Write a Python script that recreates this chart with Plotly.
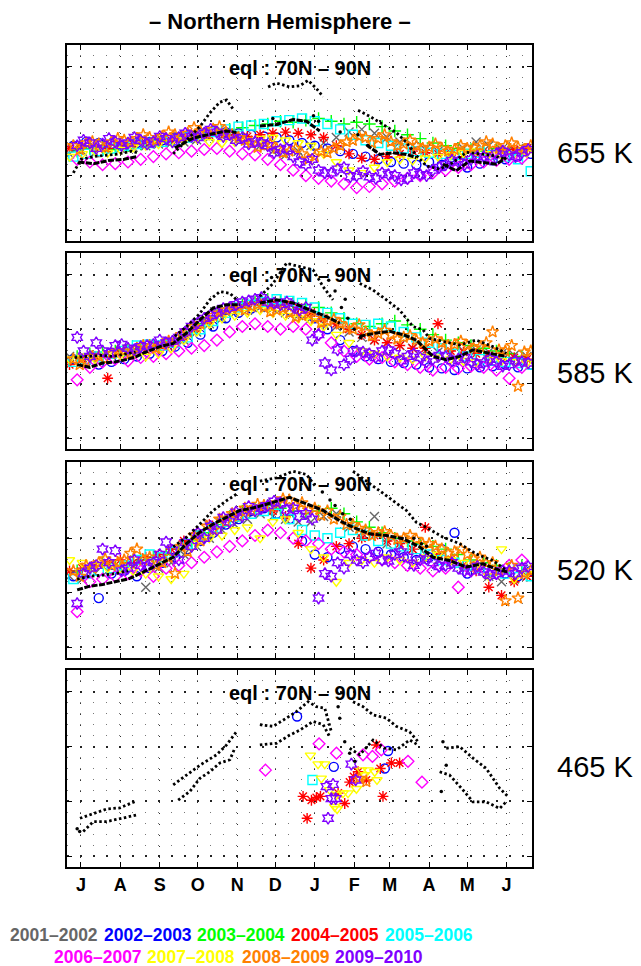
import plotly.graph_objects as go

# ---------------- data ----------------
MONTH_DAYS = [0, 31, 62, 92, 123, 153, 184, 215, 243, 274, 304, 335]
MONTH_LABELS = ["J", "A", "S", "O", "N", "D", "J", "F", "M", "A", "M", "J"]
YEARS = ["2001–2002", "2002–2003", "2003–2004", "2004–2005", "2005–2006",
         "2006–2007", "2007–2008", "2008–2009", "2009–2010"]
COLORS = ["#666666", "#0000ff", "#00ff00", "#ff0000", "#00ffff",
          "#ff00ff", "#ffff00", "#ff8000", "#8000ff"]
SYMBOLS = ["x-thin-open", "circle-open", "cross-thin-open", "asterisk-open", "square-open",
           "diamond-open", "triangle-down-open", "star-open", "hexagram-open"]
LEVELS = ["655 K", "585 K", "520 K", "465 K"]

# days since 1 July
DAYS_A = [-9, 1, 11, 21, 31, 41, 51, 61, 71, 81, 91, 101, 111, 121, 131, 141, 151, 161, 171, 181,
          191, 201, 211, 221, 231, 241, 251, 261, 271, 281, 291, 301, 311, 321, 331, 341, 351]
DAYS_B = [-6, 4, 14, 24, 34, 44, 54, 64, 74, 84, 94, 104, 114, 124, 134, 144, 154, 164, 174, 184,
          194, 204, 214, 224, 234, 244, 254, 264, 274, 284, 294, 304, 314, 324, 334, 344, 354]
DAYS_C = [-3, 7, 17, 27, 37, 47, 57, 67, 77, 87, 97, 107, 117, 127, 137, 147, 157, 167, 177, 187,
          197, 207, 217, 227, 237, 247, 257, 267, 277, 287, 297, 307, 317, 327, 337, 347]
DAYS_D = [2, 12, 22, 32, 42, 52, 62, 72, 82, 92, 102, 112, 122, 132, 142, 152, 162, 172, 182, 192,
          202, 212, 222, 232, 242, 252, 262, 272, 282, 292, 302, 312, 322, 332, 342, 352]
DAYS_E = [-1, 9, 19, 29, 39, 49, 59, 69, 79, 89, 99, 109, 119, 129, 139, 149, 159, 169, 179, 189,
          199, 209, 219, 229, 239, 249, 259, 269, 279, 289, 299, 309, 319, 329, 339, 349]

# ---- 655 K ----
K655_GREY = [2.40, 2.45, 2.42, 2.48, 2.50, 2.52, 2.55, 2.58, 2.60, 2.62, 2.66, 2.70, 2.72, 2.68, 2.65, 2.55, 2.45, 2.38, 2.45, 2.55,
             2.60, 2.70, 2.80, 2.85, 2.78, 2.70, 2.62, 2.55, 2.48, 2.45, 2.42, 2.50, 2.62, 2.55, 2.48, 2.45, 2.50]
K655_BLUE = [2.55, 2.62, 2.60, 2.58, 2.55, 2.60, 2.62, 2.65, 2.70, 2.72, 2.78, 2.82, 2.80, 2.78, 2.75, 2.72, 2.70, 2.65, 2.60, 2.55,
             2.50, 2.45, 2.40, 2.35, 2.30, 2.25, 2.22, 2.20, 2.25, 2.20, 2.18, 2.15, 2.22, 2.28, 2.30, 2.35, 2.40]
K655_GREEN = [2.45, 2.50, 2.52, 2.48, 2.55, 2.58, 2.62, 2.65, 2.68, 2.72, 2.75, 2.80, 2.85, 2.88, 2.92, 2.95, 3.00, 2.98, 3.02, 3.05,
              3.00, 2.95, 2.98, 2.95, 2.90, 2.82, 2.75, 2.68, 2.60, 2.55, 2.50, 2.48, 2.45, 2.50, 2.48, 2.45]
K655_RED = [2.50, 2.55, 2.52, 2.50, 2.55, 2.58, 2.60, 2.62, 2.65, 2.68, 2.72, 2.75, 2.78, 2.75, 2.72, 2.75, 2.78, 2.80, 2.78, 2.75,
            2.70, 2.55, 2.40, 2.32, 2.30, 2.35, 2.40, 2.45, 2.42, 2.40, 2.38, 2.35, 2.40, 2.42, 2.45, 2.48, 2.50]
K655_CYAN = [2.35, 2.40, 2.45, 2.50, 2.55, 2.58, 2.60, 2.62, 2.65, 2.70, 2.75, 2.80, 2.85, 2.90, 2.92, 2.95, 3.00, 3.02, 3.05, 3.00,
             2.95, 2.85, 2.75, 2.65, 2.60, 2.55, 2.50, 2.45, 2.42, 2.40, 2.38, 2.40, 2.42, 2.38, 2.35, 2.30, 2.08]
K655_MAGENTA = [2.30, 2.25, 2.20, 2.22, 2.25, 2.30, 2.35, 2.40, 2.42, 2.45, 2.48, 2.50, 2.45, 2.40, 2.38, 2.30, 2.20, 2.10, 2.00, 1.95,
                1.90, 1.85, 1.78, 1.80, 1.85, 1.90, 1.95, 2.00, 2.05, 2.10, 2.15, 2.20, 2.25, 2.28, 2.30, 2.32]
K655_YELLOW = [2.35, 2.40, 2.45, 2.42, 2.48, 2.52, 2.55, 2.58, 2.62, 2.65, 2.68, 2.62, 2.60, 2.62, 2.65, 2.68, 2.70, 2.65, 2.60, 2.55,
               2.40, 2.25, 2.10, 2.05, 2.15, 2.25, 2.30, 2.28, 2.32, 2.35, 2.38, 2.42, 2.45, 2.40, 2.38, 2.40, 2.42]
K655_ORANGE = [2.55, 2.60, 2.58, 2.62, 2.65, 2.68, 2.70, 2.72, 2.75, 2.78, 2.82, 2.85, 2.80, 2.70, 2.60, 2.55, 2.50, 2.45, 2.40, 2.35,
               2.42, 2.55, 2.65, 2.70, 2.68, 2.62, 2.58, 2.55, 2.52, 2.50, 2.48, 2.50, 2.55, 2.58, 2.55, 2.52, 2.55]
K655_ORANGE_2 = [2.48, 2.62, 2.52, 2.68, 2.60, 2.75, 2.65, 2.80, 2.70, 2.88, 2.78, 2.90, 2.75, 2.65, 2.52, 2.58, 2.42, 2.50, 2.30, 2.45,
                 2.50, 2.62, 2.72, 2.60, 2.75, 2.55, 2.65, 2.50, 2.58, 2.45, 2.55, 2.52, 2.62, 2.50, 2.60, 2.48]
K655_PURPLE = [2.55, 2.60, 2.58, 2.62, 2.60, 2.65, 2.62, 2.68, 2.70, 2.72, 2.78, 2.80, 2.75, 2.70, 2.62, 2.55, 2.48, 2.35, 2.20, 2.10,
               2.05, 2.15, 2.00, 1.98, 2.05, 2.00, 1.95, 2.02, 2.10, 2.20, 2.25, 2.30, 2.35, 2.40, 2.38, 2.42]
K655_PURPLE_2 = [2.65, 2.50, 2.68, 2.55, 2.70, 2.58, 2.72, 2.62, 2.78, 2.70, 2.85, 2.72, 2.65, 2.58, 2.60, 2.42, 2.50, 2.25, 2.30, 2.05,
                 2.12, 1.98, 2.08, 1.95, 2.02, 1.92, 2.05, 2.00, 2.15, 2.28, 2.20, 2.35, 2.30, 2.45, 2.35, 2.48]
K655_BLACK_A_X = [-6, 0, 10, 20, 30, 40, 44, None, 72.6, 83, 93.6, 101.4, 109.3, 114.6, 119.8, None,
                  147.3, 153.9, 164.3, 172.2, 178.8, 185.3, 190.6, None,
                  218.1, 227.3, 237.7, 248.2, 256.1, 264.0, 271.8, 282.3, 292.8, 303.3, 313.7, 324.2, 334.7]
K655_BLACK_A_Y = [2.05, 2.30, 2.35, 2.38, 2.40, 2.45, 2.42, None, 2.40, 2.65, 2.90, 3.15, 3.35, 3.39, 3.22, None,
                  3.63, 3.70, 3.63, 3.65, 3.75, 3.60, 3.45, None,
                  3.20, 3.09, 2.94, 2.79, 2.61, 2.37, 2.18, 2.12, 2.24, 2.43, 2.40, 2.37, 2.30]
K655_BLACK_B_X = [-2, 10, 22, 34, 44, None, 74, 88.3, 101.4, 114.6, 122.4, None, 140.8, 153.9, 167, 177.5, 187.9, None,
                  224.6, 235.1, 245.6, 256.1, 264, None, 284.9, 295.4, 305.9, 316.4, 326.9, 334.7]
K655_BLACK_B_Y = [2.25, 2.22, 2.28, 2.30, 2.35, None, 2.51, 2.69, 2.76, 2.82, 2.79, None, 2.91, 2.94, 3.03, 3.00, 2.82, None,
                  2.57, 2.39, 2.42, 2.39, 2.33, None, 2.21, 2.09, 2.27, 2.24, 2.21, 2.33]
K655_BLACK_DOT_X = [151, 155, 183, 187, 204, 218, 226, 232]
K655_BLACK_DOT_Y = [3.05, 2.95, 3.10, 3.00, 2.80, 2.75, 2.55, 2.45]

# ---- 585 K ----
K585_GREY = [2.50, 2.48, 2.52, 2.55, 2.58, 2.60, 2.62, 2.65, 2.70, 2.80, 2.95, 3.10, 3.20, 3.30, 3.35, 3.40, 3.38, 3.30, 3.25, 3.20,
             3.10, 3.05, 2.95, 2.85, 2.80, 2.75, 2.70, 2.65, 2.60, 2.58, 2.55, 2.60, 2.62, 2.58, 2.55, 2.52, 2.50]
K585_BLUE = [2.45, 2.40, 2.35, 2.40, 2.45, 2.50, 2.55, 2.60, 2.68, 2.75, 2.90, 3.05, 3.20, 3.30, 3.38, 3.42, 3.40, 3.35, 3.30, 3.20,
             3.00, 2.80, 2.60, 2.50, 2.45, 2.40, 2.38, 2.35, 2.30, 2.28, 2.25, 2.28, 2.30, 2.32, 2.35, 2.30, 2.35]
K585_GREEN = [2.50, 2.55, 2.58, 2.60, 2.62, 2.65, 2.68, 2.72, 2.80, 2.95, 3.10, 3.25, 3.35, 3.45, 3.50, 3.55, 3.52, 3.48, 3.45, 3.40,
              3.30, 3.20, 3.10, 3.05, 3.10, 3.15, 3.08, 3.00, 2.90, 2.80, 2.75, 2.70, 2.65, 2.60, 2.55, 2.50]
K585_RED = [2.35, 2.45, 2.50, 2.10, 2.55, 2.60, 2.62, 2.65, 2.72, 2.85, 3.00, 3.15, 3.30, 3.40, 3.45, 3.50, 3.48, 3.45, 3.40, 3.30,
            3.20, 3.10, 3.00, 2.90, 2.80, 2.75, 2.70, 2.65, 2.65, 3.10, 2.60, 2.58, 2.55, 2.52, 2.50, 2.48, 2.45]
K585_CYAN = [2.40, 2.45, 2.50, 2.55, 2.60, 2.70, 2.72, 2.70, 2.75, 2.85, 3.00, 3.15, 3.30, 3.40, 3.45, 3.50, 3.55, 3.52, 3.48, 3.40,
             3.30, 3.20, 3.10, 3.08, 3.10, 3.05, 2.95, 2.85, 2.75, 2.65, 2.55, 2.50, 2.45, 2.42, 2.40, 2.38, 2.35]
K585_MAGENTA = [2.07, 2.30, 2.40, 2.45, 2.42, 2.48, 2.50, 2.55, 2.60, 2.65, 2.70, 2.80, 2.95, 3.05, 3.10, 3.05, 3.00, 3.05, 3.00, 2.90,
                2.75, 2.60, 2.50, 2.45, 2.48, 2.40, 2.35, 2.30, 2.25, 2.30, 2.28, 2.32, 2.30, 2.25, 2.10, 2.30]
K585_YELLOW = [2.45, 2.50, 2.45, 2.55, 2.52, 2.55, 2.50, 2.55, 2.65, 2.80, 2.95, 3.10, 3.20, 3.25, 3.30, 3.35, 3.30, 3.25, 3.20, 3.15,
               3.05, 2.90, 2.75, 2.60, 2.55, 2.50, 2.48, 2.45, 2.50, 2.48, 2.45, 2.42, 2.40, 2.45, 2.42, 2.40, 2.38]
K585_ORANGE = [2.45, 2.40, 2.50, 2.55, 2.60, 2.65, 2.70, 2.72, 2.80, 2.95, 3.10, 3.25, 3.35, 3.40, 3.42, 3.40, 3.35, 3.30, 3.25, 3.20,
               3.15, 3.10, 3.00, 2.95, 2.92, 2.90, 2.85, 2.80, 2.78, 2.75, 2.72, 2.70, 2.68, 2.95, 2.60, 1.95, 2.60]
K585_ORANGE_2 = [2.35, 2.50, 2.45, 2.60, 2.55, 2.70, 2.65, 2.78, 2.90, 3.05, 3.18, 3.30, 3.38, 3.35, 3.45, 3.32, 3.38, 3.22, 3.28, 3.12,
                 3.18, 3.02, 3.08, 2.88, 2.98, 2.82, 2.88, 2.75, 2.82, 2.70, 2.78, 2.65, 2.75, 2.62, 2.70, 2.58]
K585_PURPLE = [2.85, 2.50, 2.60, 2.70, 2.65, 2.68, 2.72, 2.75, 2.85, 3.05, 3.20, 3.30, 3.40, 3.50, 3.55, 3.50, 3.45, 3.42, 3.40, 2.90,
               2.25, 2.35, 2.60, 2.55, 2.60, 2.55, 2.50, 2.48, 2.45, 2.50, 2.45, 2.40, 2.38, 2.40, 2.35, 2.40]
K585_PURPLE_2 = [2.60, 2.75, 2.55, 2.72, 2.62, 2.70, 2.80, 2.78, 2.95, 3.12, 3.25, 3.38, 3.45, 3.52, 3.58, 3.48, 3.50, 3.35, 2.80, 2.38,
                 2.62, 2.45, 2.58, 2.48, 2.62, 2.42, 2.55, 2.40, 2.52, 2.42, 2.48, 2.35, 2.45, 2.32, 2.42, 2.38]
K585_BLACK_A_X = [-5, 5, 15, 25, 35, 43, None, 73.9, 83.1, 93.6, 101.4, 109.3, 117.2, 122.4, None,
                  140.8, 151.2, 161.7, 172.2, 182.7, 190.6, 198.4, None,
                  219.4, 229.9, 240.4, 250.8, 261.3, 269.2, 274.4, 287.5, 298, 311.1, 324.2, 334.7]
K585_BLACK_A_Y = [2.48, 2.50, 2.52, 2.50, 2.55, 2.58, None, 2.87, 3.05, 3.29, 3.54, 3.69, 3.66, 3.54, None,
                  3.60, 3.84, 4.21, 4.15, 4.09, 3.78, 3.54, None,
                  3.84, 3.72, 3.54, 3.35, 3.05, 2.99, 2.83, 2.77, 2.71, 2.80, 2.68, 2.56]
K585_BLACK_B_X = [-3, 7, 17, 27, 37, 44, 49, 62.1, 72.6, 83.1, 93.6, 104.1, 114.6, 125, None,
                  140.8, 153.9, 167, 180.1, 193.2, 203.7, None,
                  219.4, 232.5, 243, 253.5, 264, 277.1, 287.5, 298, 308.5, 321.6, 334.7]
K585_BLACK_B_Y = [2.35, 2.30, 2.38, 2.40, 2.45, 2.50, 2.56, 2.68, 2.74, 2.93, 3.17, 3.39, 3.45, 3.45, None,
                  3.48, 3.54, 3.48, 3.35, 3.23, 3.11, None,
                  2.87, 2.93, 2.96, 2.90, 2.80, 2.50, 2.44, 2.50, 2.62, 2.56, 2.50]
K585_BLACK_DOT_X = [195, 200, 205, 208, 210, 215, 220, 150, 158, 165]
K585_BLACK_DOT_Y = [3.90, 3.70, 3.40, 3.55, 3.20, 3.00, 2.85, 3.95, 4.05, 3.90]

# ---- 520 K ----
K520_GREY = [2.30, 2.25, 2.35, 2.40, 2.45, 2.50, 2.10, 2.45, 2.55, 2.70, 2.85, 3.00, 3.15, 3.25, 3.35, 3.45, 3.40, 3.35, 3.30, 3.30,
             3.40, 3.45, 3.20, 3.10, 3.40, 2.90, 2.85, 2.80, 2.70, 2.60, 2.55, 2.45, 2.40, 2.30, 2.20, 2.25, 2.30]
K520_BLUE = [2.30, 2.35, 1.90, 2.35, 2.40, 2.30, 2.45, 2.55, 2.65, 2.80, 2.95, 3.10, 3.25, 3.35, 3.50, 3.55, 3.45, 3.35, 2.95, 2.70,
             2.65, 2.80, 2.85, 2.80, 2.75, 2.70, 2.65, 2.60, 2.65, 2.80, 3.10, 2.35, 2.45, 2.40, 2.35, 2.30, 2.40]
K520_GREEN = [2.40, 2.45, 2.55, 2.50, 2.55, 2.60, 2.65, 2.70, 2.80, 2.95, 3.10, 3.25, 3.40, 3.50, 3.55, 3.60, 3.55, 3.50, 3.45, 3.50,
              3.55, 3.45, 3.30, 3.20, 3.10, 3.00, 2.95, 2.90, 2.85, 2.80, 2.70, 2.60, 2.55, 2.50, 2.45, 2.50]
K520_RED = [2.40, 2.45, 2.50, 2.55, 2.60, 2.55, 2.65, 2.70, 2.80, 2.95, 3.10, 3.25, 3.35, 3.45, 3.50, 3.55, 3.50, 3.40, 2.90, 2.45,
            2.60, 2.85, 2.90, 3.00, 3.05, 2.95, 2.90, 2.80, 3.20, 2.70, 2.60, 2.50, 2.40, 2.10, 1.95, 2.20, 2.30]
K520_CYAN = [2.25, 2.35, 2.40, 2.45, 2.50, 2.60, 2.70, 2.65, 2.75, 2.90, 3.05, 3.20, 3.30, 3.40, 3.45, 3.50, 3.45, 3.35, 3.15, 3.05,
             3.00, 3.10, 3.15, 3.05, 2.95, 2.90, 2.85, 2.80, 2.70, 2.60, 2.55, 2.50, 2.45, 2.40, 2.35, 2.45, 2.30]
K520_MAGENTA = [1.65, 2.20, 2.25, 2.30, 2.35, 2.40, 2.30, 2.45, 2.50, 2.55, 2.65, 2.75, 2.85, 2.95, 3.05, 3.15, 3.10, 3.00, 2.95, 2.90,
                2.80, 2.75, 2.70, 2.65, 2.60, 2.55, 2.50, 2.45, 2.40, 2.45, 2.10, 2.40, 2.45, 2.35, 2.50, 2.60]
K520_YELLOW = [2.60, 2.55, 2.50, 2.45, 2.45, 2.40, 2.35, 2.30, 2.25, 2.35, 2.90, 3.00, 3.05, 3.15, 3.20, 3.00, 3.30, 3.35, 3.10, 2.80,
               2.65, 2.20, 2.55, 2.60, 2.55, 2.65, 2.60, 2.55, 2.65, 2.70, 2.60, 2.55, 2.50, 2.30, 2.80, 2.25, 2.35]
K520_ORANGE = [2.40, 2.50, 2.55, 2.50, 2.60, 2.80, 2.65, 2.55, 2.35, 2.75, 2.95, 3.15, 3.30, 3.40, 3.50, 3.60, 3.65, 3.70, 3.65, 3.55,
               3.50, 3.40, 3.25, 3.15, 3.10, 3.05, 3.00, 2.98, 2.90, 2.80, 2.75, 2.70, 2.65, 2.55, 1.85, 1.90, 2.40]
K520_ORANGE_2 = [2.30, 2.45, 2.62, 2.55, 2.72, 2.60, 2.50, 2.65, 2.85, 3.05, 3.22, 3.35, 3.45, 3.55, 3.62, 3.58, 3.72, 3.60, 3.52, 3.42,
                 3.35, 3.25, 3.18, 3.05, 3.12, 2.98, 3.05, 2.90, 2.85, 2.72, 2.80, 2.62, 2.55, 2.40, 2.50, 2.35]
K520_PURPLE = [1.80, 2.45, 2.80, 2.77, 2.45, 2.50, 2.55, 2.93, 2.60, 2.85, 3.00, 3.15, 3.30, 3.40, 3.50, 3.60, 3.65, 3.55, 3.45, 1.90,
               2.30, 2.45, 2.60, 2.65, 2.60, 2.70, 2.65, 2.60, 2.55, 2.50, 2.45, 2.40, 2.38, 2.35, 2.40, 2.45]
K520_PURPLE_2 = [2.35, 2.50, 2.55, 2.40, 2.60, 2.48, 2.70, 2.78, 2.92, 3.10, 3.22, 3.38, 3.48, 3.58, 3.55, 3.68, 3.52, 3.40, 3.35, 2.35,
                 2.55, 2.70, 2.55, 2.72, 2.58, 2.75, 2.50, 2.62, 2.48, 2.55, 2.40, 2.48, 2.32, 2.40, 2.35, 2.48]
K520_BLACK_A_X = [-3, 7, 17, 27, 37, None, 72.6, 83.1, 93.6, 104.1, 114.6, 122.4, None,
                  140.8, 153.9, 167, 177.5, 185.3, None,
                  214.1, 224.6, 235.1, 245.6, 256.1, 264, 271.8, 284.9, 298, 311.1, 324.2, 334.7]
K520_BLACK_A_Y = [2.25, 2.30, 2.32, 2.35, 2.40, None, 2.84, 3.02, 3.26, 3.51, 3.69, 3.81, None,
                  4.05, 4.11, 4.23, 4.17, 3.93, None,
                  4.23, 4.05, 3.87, 3.69, 3.51, 3.29, 3.20, 3.02, 2.90, 2.71, 2.59, 2.41]
K520_BLACK_B_X = [-3, 7, 17, 27, 37, 41.2, 56.9, 72.6, 83.1, 93.6, 104.1, 114.6, 125, 138.1, 151.2, 164.3, 177.5, 190.6,
                  203.7, 214.1, 227.3, 240.4, 253.5, 266.6, 277.1, 290.1, 303.3, 316.4, 329.5, 336]
K520_BLACK_B_Y = [2.05, 2.12, 2.15, 2.20, 2.25, 2.29, 2.47, 2.65, 2.90, 3.11, 3.26, 3.38, 3.51, 3.57, 3.66, 3.75, 3.63, 3.51,
                  3.32, 3.20, 3.08, 3.05, 2.99, 2.84, 2.65, 2.59, 2.47, 2.53, 2.41, 2.38]
K520_BLACK_DOT_X = [190, 196, 200, 206, 212, 262, 268, 272]
K520_BLACK_DOT_Y = [3.85, 3.70, 3.60, 3.45, 3.35, 3.00, 2.90, 2.85]

# ---- 465 K (sparse) ----
K465_BLUE_X = [170.1, 199.0, 241.7, 239.1]
K465_BLUE_Y = [3.55, 2.63, 2.92, 2.60]
K465_RED_X = [174.8, 181.4, 185.3, 188.5, 178.0, 202.4, 207.6, 211.5, 214.7, 218.1, 224.6, 232.5, 235.6, 244.3, 250.8, 237.7]
K465_RED_Y = [2.09, 2.02, 2.07, 2.09, 1.69, 2.15, 1.96, 2.35, 2.45, 2.54, 2.39, 3.03, 2.60, 2.70, 2.70, 2.09]
K465_CYAN_X = [182.2]
K465_CYAN_Y = [2.39]
K465_MAGENTA_X = [145.2, 187.4, 201.1, 222.0, 229.4, 236.4, 257.4, 268.4]
K465_MAGENTA_Y = [2.57, 3.05, 2.88, 2.85, 2.82, 2.94, 2.73, 2.35]
K465_YELLOW_X = [180.6, 186.6, 191.9, 189.2, 195.8, 201.1, 206.3, 210.2, 199.7, 201.6, 216.8, 220.7, 226.0, 231.2, 233.0, 222.5]
K465_YELLOW_Y = [2.84, 2.68, 2.68, 2.42, 2.21, 2.12, 2.15, 2.15, 1.90, 1.86, 2.23, 2.57, 2.57, 2.54, 2.39, 2.48]
K465_ORANGE_X = [224.6, 218.9]
K465_ORANGE_Y = [2.36, 2.42]
K465_PURPLE_X = [212.8, 216.2, 193.2, 198.4, 197.1, 200.5, 194.5]
K465_PURPLE_Y = [2.68, 2.39, 2.27, 2.31, 2.05, 2.05, 1.69]
K465_BLACK_A_X = [-0.8, 9.7, 20.2, 30.7, 38.5, 43.8, None, 72.6, 83.1, 93.6, 106.7, 114.6, 122.4, None,
                  140.8, 151.2, 161.7, 169.6, 178.8, 185.3, 191.9, 197.1, None,
                  214.1, 222.0, 229.9, 240.4, 248.2, 258.7, 265.3, None, 287.5, 298.0, 308.5, 319.0, 329.5, 336.0]
K465_BLACK_A_Y = [1.69, 1.78, 1.86, 1.88, 1.96, 2.01, None, 2.30, 2.48, 2.66, 2.85, 3.03, 3.27, None,
                  3.40, 3.37, 3.52, 3.64, 3.82, 3.73, 3.70, 3.27, None,
                  3.82, 3.73, 3.58, 3.52, 3.37, 3.27, 3.09, None, 2.97, 3.00, 2.79, 2.60, 2.24, 2.09]
K465_BLACK_B_X = [1.8, 9.7, 20.2, 30.7, 43.8, None, 76.5, 85.7, 93.6, 101.4, 109.3, 117.2, 121.1, None,
                  140.8, 153.9, 164.3, 172.2, 182.7, 190.6, 195.8, None,
                  211.5, 219.4, 229.9, 239.1, 248.2, 258.7, 265.3, None, 282.3, 290.1, 300.6, 308.5, 319.0, 329.5, 334.7]
K465_BLACK_B_Y = [1.45, 1.63, 1.63, 1.68, 1.75, None, 2.02, 2.18, 2.42, 2.54, 2.70, 2.76, 2.97, None,
                  3.03, 3.06, 3.21, 3.30, 3.46, 3.40, 3.18, None,
                  2.97, 2.85, 3.12, 2.97, 2.94, 3.12, 3.03, None, 2.54, 2.48, 2.21, 1.99, 1.99, 1.87, 1.99]
K465_BLACK_DOT_X = [203.7, 207.6, 211.5, 215.5, 202.4, 284.9, 287.5, 283.6, -3, -1]
K465_BLACK_DOT_Y = [3.52, 3.09, 2.88, 2.73, 3.73, 3.09, 2.66, 2.18, 1.50, 1.45]

# ---------------- figure ----------------
GRIDS = [DAYS_A, DAYS_B, DAYS_C]
DENSE_PANELS = [
    [K655_GREY, K655_BLUE, K655_GREEN, K655_RED, K655_CYAN, K655_MAGENTA, K655_YELLOW, K655_ORANGE, K655_PURPLE],
    [K585_GREY, K585_BLUE, K585_GREEN, K585_RED, K585_CYAN, K585_MAGENTA, K585_YELLOW, K585_ORANGE, K585_PURPLE],
    [K520_GREY, K520_BLUE, K520_GREEN, K520_RED, K520_CYAN, K520_MAGENTA, K520_YELLOW, K520_ORANGE, K520_PURPLE],
]
EXTRA_ORANGE = [K655_ORANGE_2, K585_ORANGE_2, K520_ORANGE_2]
EXTRA_PURPLE = [K655_PURPLE_2, K585_PURPLE_2, K520_PURPLE_2]
SPARSE_465 = [
    (None, None), (K465_BLUE_X, K465_BLUE_Y), (None, None), (K465_RED_X, K465_RED_Y),
    (K465_CYAN_X, K465_CYAN_Y), (K465_MAGENTA_X, K465_MAGENTA_Y), (K465_YELLOW_X, K465_YELLOW_Y),
    (K465_ORANGE_X, K465_ORANGE_Y), (K465_PURPLE_X, K465_PURPLE_Y),
]
BLACKS = [
    (K655_BLACK_A_X, K655_BLACK_A_Y, K655_BLACK_B_X, K655_BLACK_B_Y, K655_BLACK_DOT_X, K655_BLACK_DOT_Y),
    (K585_BLACK_A_X, K585_BLACK_A_Y, K585_BLACK_B_X, K585_BLACK_B_Y, K585_BLACK_DOT_X, K585_BLACK_DOT_Y),
    (K520_BLACK_A_X, K520_BLACK_A_Y, K520_BLACK_B_X, K520_BLACK_B_Y, K520_BLACK_DOT_X, K520_BLACK_DOT_Y),
    (K465_BLACK_A_X, K465_BLACK_A_Y, K465_BLACK_B_X, K465_BLACK_B_Y, K465_BLACK_DOT_X, K465_BLACK_DOT_Y),
]

FONT = "Liberation Sans, Arial, Helvetica, sans-serif"
DOMAINS = [(0.7616, 1.0), (0.5085, 0.7470), (0.2543, 0.4927), (0.0, 0.2397)]

fig = go.Figure()


def marker_for(i):
    return dict(symbol=SYMBOLS[i], size=9, color=COLORS[i],
                line=dict(color=COLORS[i], width=1.4))


def add_markers(xs, ys, i, xa, ya):
    fig.add_trace(go.Scatter(x=xs, y=ys, mode="markers", marker=marker_for(i),
                             xaxis=xa, yaxis=ya, showlegend=False, hoverinfo="skip"))


for p in range(4):
    xa = "x" if p == 0 else f"x{p + 1}"
    ya = "y" if p == 0 else f"y{p + 1}"
    for i in range(9):
        if p < 3:
            add_markers(GRIDS[i % 3], DENSE_PANELS[p][i], i, xa, ya)
            if i == 7:
                add_markers(DAYS_E, EXTRA_ORANGE[p], i, xa, ya)
            if i == 8:
                add_markers(DAYS_D, EXTRA_PURPLE[p], i, xa, ya)
        else:
            xs, ys = SPARSE_465[i]
            if xs is not None:
                add_markers(xs, ys, i, xa, ya)
    ax, ay, bx, by, dx, dy = BLACKS[p]
    fig.add_trace(go.Scatter(x=ax, y=ay, mode="lines", connectgaps=False,
                             line=dict(color="black", width=2.8, dash="2.5px,2.5px"),
                             xaxis=xa, yaxis=ya, showlegend=False, hoverinfo="skip"))
    fig.add_trace(go.Scatter(x=bx, y=by, mode="lines", connectgaps=False,
                             line=dict(color="black", width=2.8 if p == 3 else 3,
                                       dash="2.5px,2.5px" if p == 3 else "6px,1.5px"),
                             xaxis=xa, yaxis=ya, showlegend=False, hoverinfo="skip"))
    fig.add_trace(go.Scatter(x=dx, y=dy, mode="markers",
                             marker=dict(color="black", size=3.5),
                             xaxis=xa, yaxis=ya, showlegend=False, hoverinfo="skip"))

# the page body adds an 8px offset, so margins are reduced by 8px on the left and top
layout = dict(
    width=641, height=966,
    margin=dict(l=59, r=117, t=37, b=107),
    paper_bgcolor="white", plot_bgcolor="white",
    font=dict(family=FONT, color="black"),
    showlegend=False,
)
for p in range(4):
    xk = "xaxis" if p == 0 else f"xaxis{p + 1}"
    yk = "yaxis" if p == 0 else f"yaxis{p + 1}"
    ya = "y" if p == 0 else f"y{p + 1}"
    xa = "x" if p == 0 else f"x{p + 1}"
    layout[xk] = dict(
        domain=[0, 1], anchor=ya, range=[-11, 355],
        tickmode="array", tickvals=MONTH_DAYS, ticktext=MONTH_LABELS,
        showticklabels=(p == 3),
        tickfont=dict(size=18, family=FONT, weight="bold"),
        ticks="inside", ticklen=5, tickwidth=1, tickcolor="black",
        showline=True, linewidth=2, linecolor="black", mirror="ticks",
        showgrid=True, gridcolor="#333333", gridwidth=1, griddash="1px,10px",
        zeroline=False, fixedrange=True,
    )
    layout[yk] = dict(
        domain=list(DOMAINS[p]), anchor=xa, range=[0.8, 4.4],
        tickmode="array", tickvals=[1, 2, 3, 4], showticklabels=False,
        ticks="inside", ticklen=5, tickwidth=1, tickcolor="black",
        showline=True, linewidth=2, linecolor="black", mirror="ticks",
        showgrid=True, gridcolor="#222222", gridwidth=1.5, griddash="1.5px,11.5px",
        minor=dict(tick0=0, dtick=0.2, showgrid=True, gridcolor="#777777",
                   gridwidth=1, griddash="1px,12px", ticks=""),
        zeroline=False, fixedrange=True,
    )

fig.update_layout(**layout)

ann = []
ann.append(dict(text="<b>– Northern Hemisphere –</b>", x=0.458, y=1.028, xref="paper", yref="paper",
                showarrow=False, font=dict(size=22, family=FONT), xanchor="center", yanchor="middle"))
EQL_Y = [0.972, 0.720, 0.466, 0.212]
LEVEL_Y = [0.869, 0.601, 0.361, 0.122]
for p in range(4):
    ann.append(dict(text="<b>eql : 70N – 90N</b>", x=0.501, y=EQL_Y[p], xref="paper", yref="paper",
                    showarrow=False, font=dict(size=20, family=FONT), xanchor="center", yanchor="middle"))
    ann.append(dict(text=LEVELS[p], x=1.135, y=LEVEL_Y[p], xref="paper", yref="paper",
                    showarrow=False, font=dict(size=29, family=FONT), xanchor="center", yanchor="middle"))
LEG_X = [-0.028, 0.174, 0.375, 0.576, 0.778, 0.0656, 0.2667, 0.470, 0.671]
LEG_Y = [-0.0827] * 5 + [-0.1095] * 4
for i in range(9):
    ann.append(dict(text="<b>" + YEARS[i] + "</b>", x=LEG_X[i], y=LEG_Y[i], xref="paper", yref="paper",
                    showarrow=False, font=dict(size=17.5, family=FONT, color=COLORS[i]),
                    xanchor="center", yanchor="middle"))
fig.update_layout(annotations=ann)

fig.write_html("out.html")
